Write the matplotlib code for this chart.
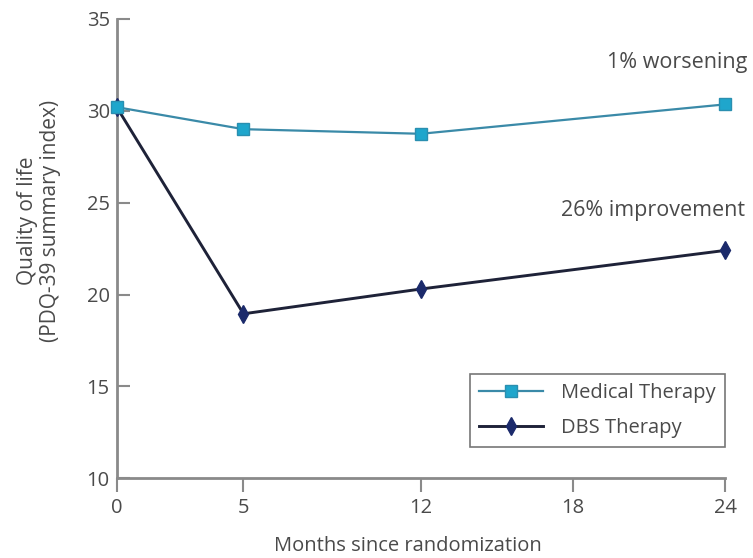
import matplotlib
matplotlib.use("Agg")
import matplotlib.pyplot as plt

months = [0, 5, 12, 24]
medical = [30.2, 29.0, 28.75, 30.35]
dbs = [30.2, 18.95, 20.3, 22.4]
xticks = [0, 5, 12, 18, 24]
yticks = [10, 15, 20, 25, 30, 35]

plt.rcParams['font.family'] = ['Open Sans', 'DejaVu Sans']
txt = '#4a4a4a'
axc = '#8a8a8a'

fig = plt.figure(figsize=(7.53, 5.58), dpi=100)
ax = fig.add_axes([0.155, 0.143, 0.808, 0.823])

ax.plot(months, medical, color='#3a8aa8', lw=1.6, marker='s', ms=9,
        mfc='#1fa6cc', mec='#2a8fb0', mew=1, clip_on=False, zorder=4,
        label='Medical Therapy')
ax.plot(months, dbs, color='#1e2238', lw=2.1, marker='d', ms=9,
        mfc='#1b2a6b', mec='#1b2a6b', clip_on=False, zorder=3,
        label='DBS Therapy')

ax.set_xlim(0, 24)
ax.set_ylim(10, 35)
ax.set_xticks(xticks)
ax.set_yticks(yticks)
for s in ['top', 'right']:
    ax.spines[s].set_visible(False)
for s in ['left', 'bottom']:
    ax.spines[s].set_color(axc)
    ax.spines[s].set_linewidth(2)
ax.tick_params(axis='y', direction='in', length=9, width=1.5, color=axc,
               labelsize=14.5, labelcolor=txt, pad=5)
ax.tick_params(axis='x', direction='out', length=10, width=1.5, color=axc,
               labelsize=14.5, labelcolor=txt, pad=4)

ax.set_xlabel('Months since randomization', fontsize=14.5, color=txt)
ax.xaxis.set_label_coords(0.479, -0.125)
ax.set_ylabel('Quality of life\n(PDQ-39 summary index)', fontsize=15,
              color=txt, linespacing=1.1)
ax.yaxis.set_label_coords(-0.092, 0.56)

ax.text(1.037, 0.905, '1% worsening', transform=ax.transAxes, ha='right',
        va='center', fontsize=15.5, color=txt)
ax.text(1.033, 0.583, '26% improvement', transform=ax.transAxes, ha='right',
        va='center', fontsize=15.5, color=txt)

leg = ax.legend(loc='lower right', bbox_to_anchor=(1.0, 0.068),
                borderaxespad=0, fontsize=14.5, frameon=True, fancybox=False,
                borderpad=0.45, handlelength=3.2, handletextpad=0.9,
                labelspacing=0.75, labelcolor=txt)
leg.get_frame().set_edgecolor('#555555')
leg.get_frame().set_linewidth(1.2)

fig.savefig('out.png', dpi=100)
